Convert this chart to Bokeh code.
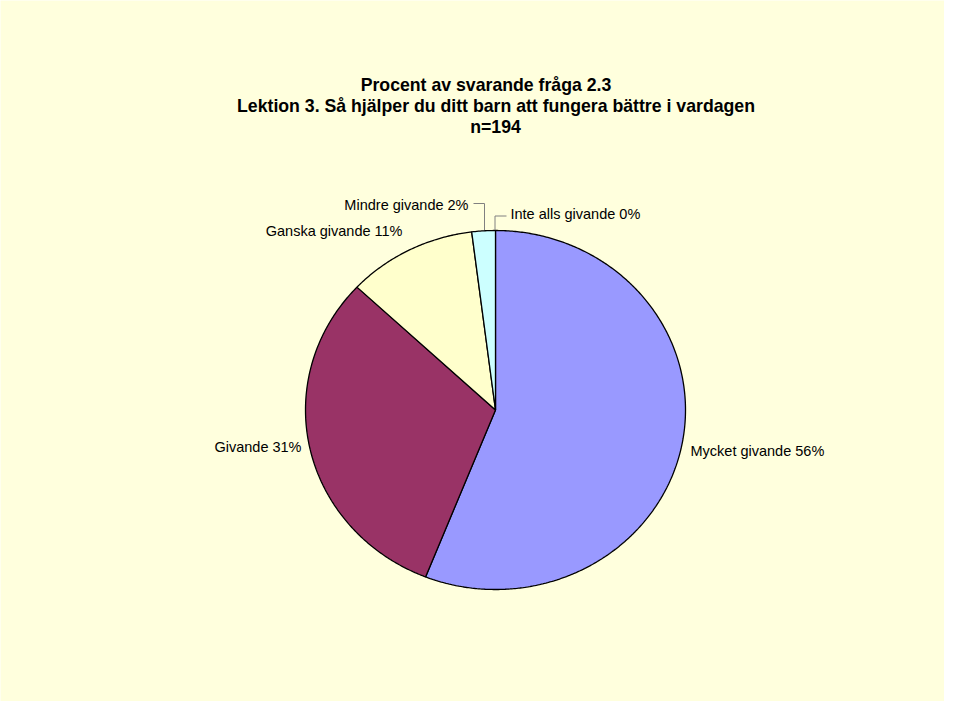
import math
from bokeh.plotting import figure
from bokeh.models import Range1d
from bokeh.core.properties import value
from bokeh.embed import file_html
from bokeh.resources import INLINE

# ---- data ----
categories = ["Mycket givande", "Givande", "Ganska givande", "Mindre givande", "Inte alls givande"]
percent = [56, 31, 11, 2, 0]
colors = ["#9999FF", "#993366", "#FFFFCC", "#CCFFFF", "#FFFFFF"]
title_lines = ["Procent av svarande fråga 2.3",
               "Lektion 3. Så hjälper du ditt barn att fungera bättre i vardagen",
               "n=194"]

W, H = 944, 701
p = figure(width=W, height=H, output_backend="svg", toolbar_location=None,
           x_range=Range1d(0, W), y_range=Range1d(H, 0),
           min_border=0, background_fill_color="#FFFFDD", border_fill_color="#FFFFDD",
           outline_line_color=None)
p.axis.visible = False
p.grid.visible = False

# pie geometry (screen pixel coordinates)
cx, cy, rx, ry = 495, 409.5, 190, 179.5
total = sum(percent)
start = 0.0
for cat, pct, col in zip(categories, percent, colors):
    span = 360.0 * pct / total
    if span > 0:
        n = max(int(span * 2), 4)
        xs, ys = [cx], [cy]
        for i in range(n + 1):
            t = math.radians(start + span * i / n)
            xs.append(cx + rx * math.sin(t))
            ys.append(cy - ry * math.cos(t))
        p.patch(xs, ys, fill_color=col, line_color="black", line_width=1.3)
    start += span

# title
font = value("Liberation Sans")
tx = [485.5, 495.5, 495]
ty = [84.5, 105.5, 126]
p.text(x=tx, y=ty, text=title_lines, text_font=font, text_font_size="17.7px",
       text_font_style="bold", text_align="center", text_baseline="alphabetic",
       text_color="black")

# labels
labels = [f"{c} {v}%" for c, v in zip(categories, percent)]
lx = [690, 301, 402, 468, 510]
ly = [450, 446.3, 230.6, 204.5, 213.3]
la = ["left", "right", "right", "right", "left"]
p.text(x=lx, y=ly, text=labels, text_font=font, text_font_size="14.5px",
       text_align=la, text_baseline="alphabetic", text_color="black")

# leader lines
p.line([473, 484, 484], [203, 203, 229.5], line_color="#808080", line_width=1)
p.line([506, 494.5, 494.5], [215.5, 215.5, 229.5], line_color="#808080", line_width=1)

open("out.html", "w").write(file_html(p, INLINE))
